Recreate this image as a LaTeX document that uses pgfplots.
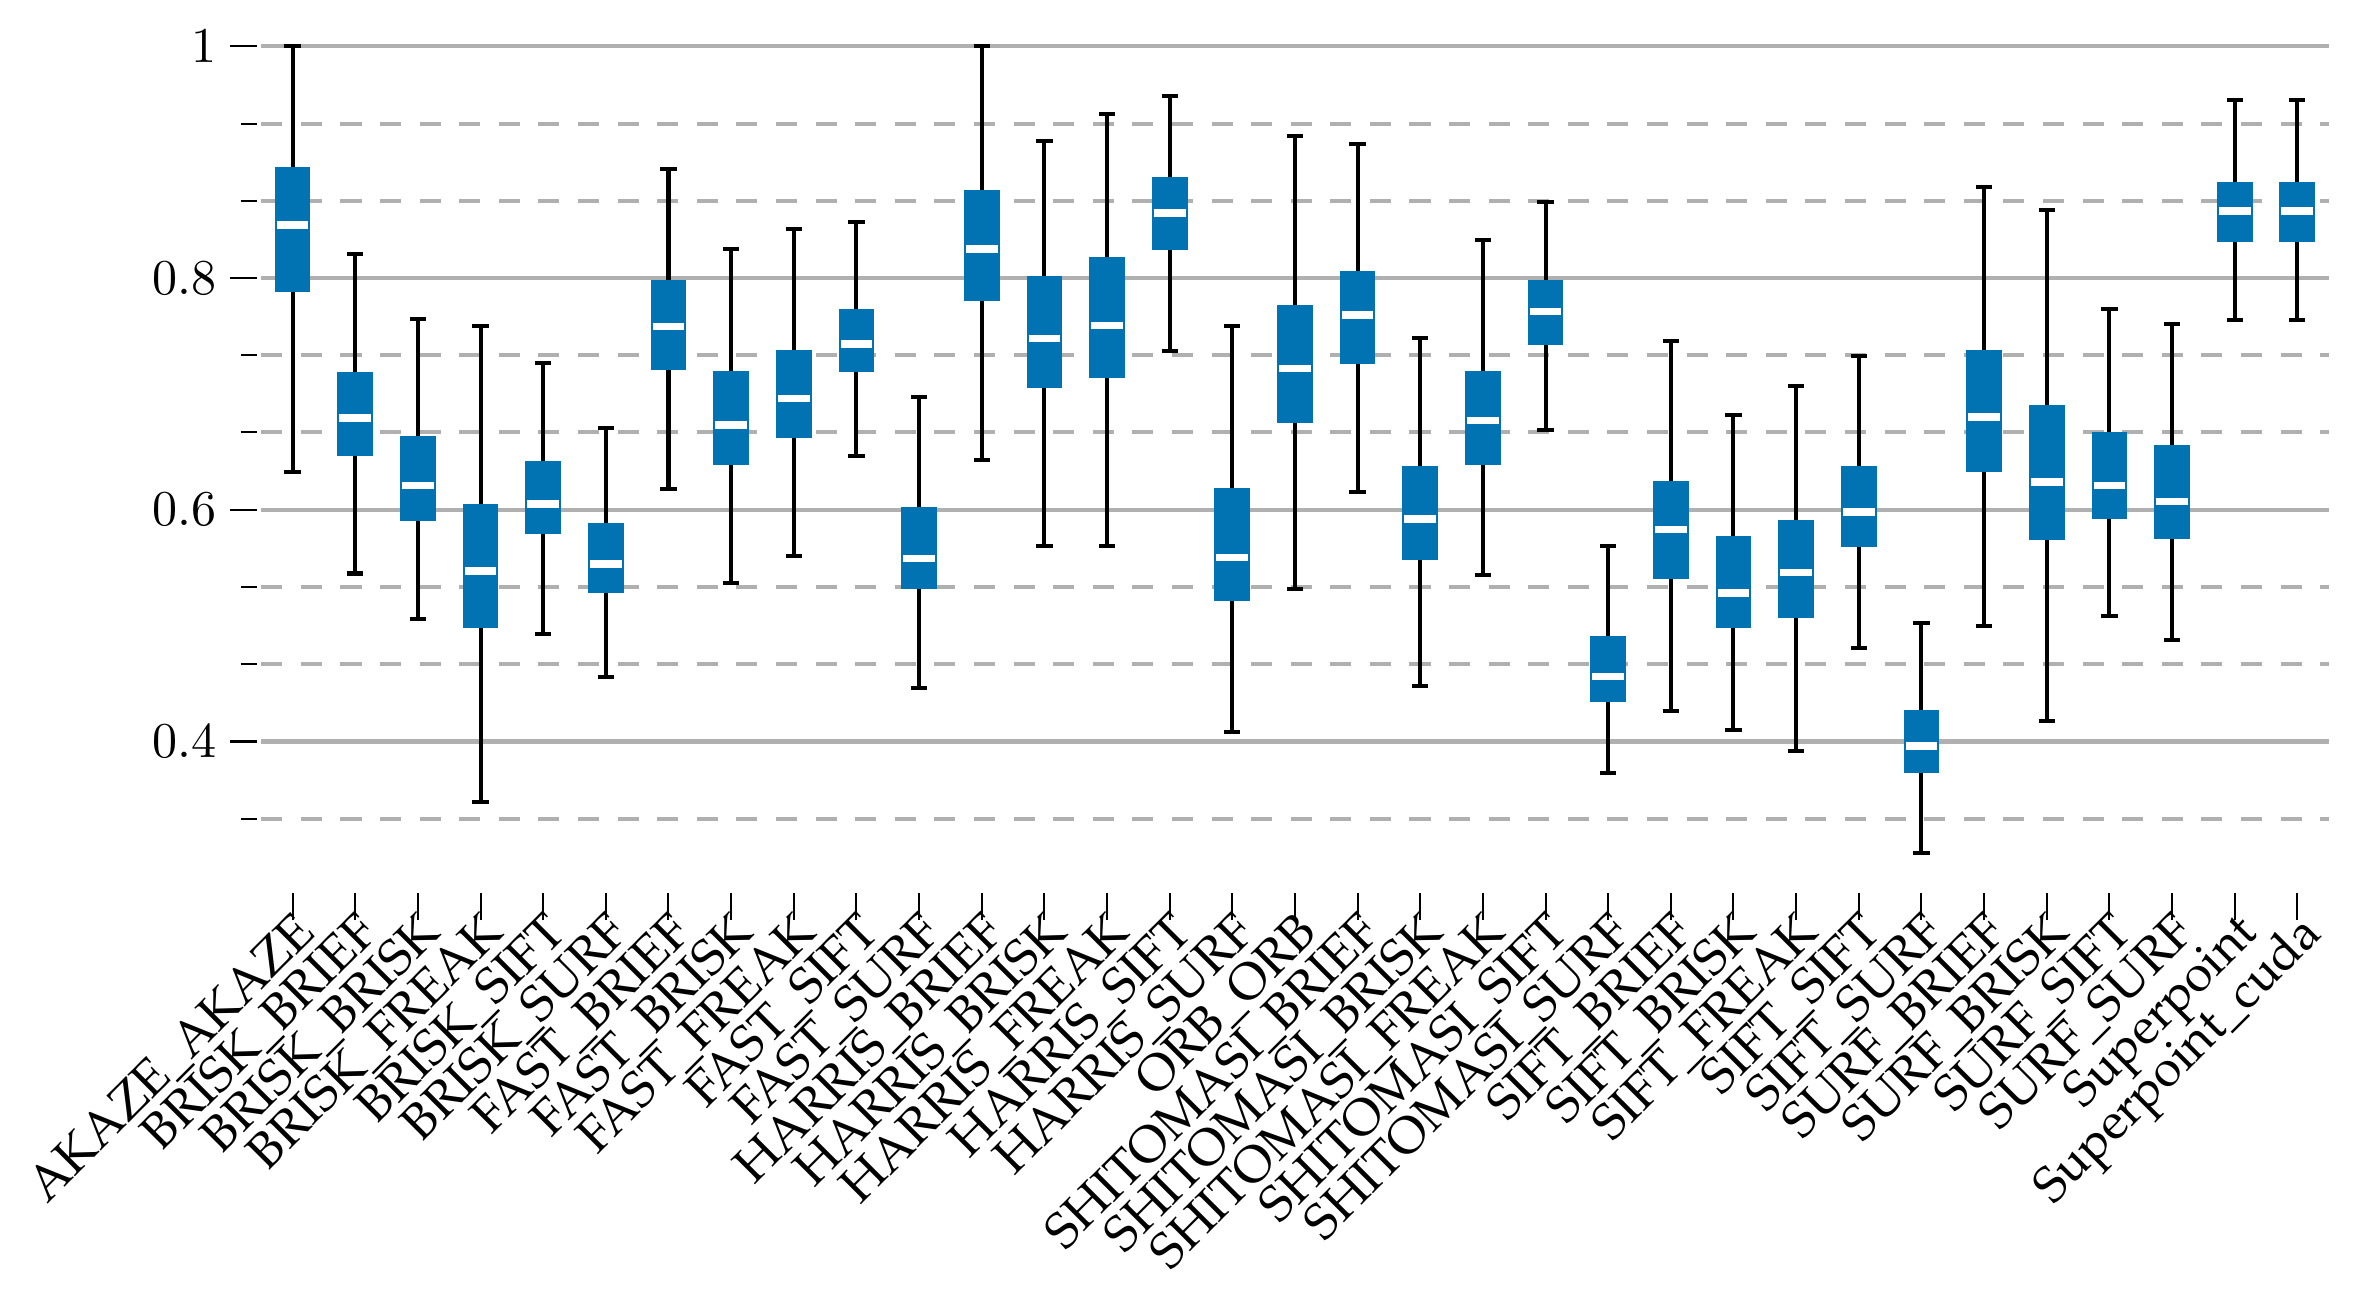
\documentclass[border=0pt]{standalone}
\usepackage[T1]{fontenc}
\renewcommand{\rmdefault}{ppl}
\usepackage{pgfplots}
\usepackage{pgfplotstable}
\pgfplotsset{compat=1.18}
\usepgfplotslibrary{statistics}

\definecolor{boxblue}{HTML}{0173B2}
\definecolor{gridgray}{HTML}{B0B0B0}

% one row per descriptor pair, same order as the tick labels
\pgfplotstableread{
lw    lq    med   uq    uw
0.633 0.788 0.846 0.896 1.000
0.545 0.646 0.679 0.719 0.821
0.506 0.590 0.621 0.664 0.765
0.348 0.498 0.547 0.605 0.759
0.493 0.579 0.605 0.642 0.727
0.456 0.528 0.553 0.589 0.671
0.618 0.721 0.758 0.798 0.894
0.537 0.639 0.673 0.720 0.825
0.560 0.662 0.696 0.738 0.842
0.646 0.719 0.743 0.773 0.848
0.446 0.532 0.558 0.602 0.697
0.643 0.780 0.825 0.876 1.000
0.569 0.705 0.748 0.802 0.918
0.569 0.714 0.759 0.818 0.942
0.737 0.824 0.856 0.887 0.957
0.408 0.521 0.559 0.619 0.759
0.532 0.675 0.722 0.777 0.923
0.615 0.726 0.768 0.806 0.916
0.448 0.557 0.592 0.638 0.748
0.544 0.639 0.677 0.720 0.833
0.669 0.742 0.771 0.798 0.866
0.373 0.434 0.456 0.491 0.569
0.426 0.540 0.583 0.625 0.746
0.410 0.498 0.528 0.577 0.682
0.392 0.507 0.546 0.591 0.707
0.481 0.568 0.598 0.638 0.733
0.304 0.373 0.396 0.427 0.502
0.500 0.633 0.680 0.738 0.879
0.418 0.574 0.624 0.690 0.859
0.508 0.592 0.621 0.667 0.773
0.488 0.575 0.607 0.656 0.760
0.764 0.831 0.858 0.883 0.954
0.764 0.831 0.858 0.883 0.954
}\boxdata

\begin{document}
\begin{tikzpicture}
\begin{axis}[
    width=412.5pt, height=177pt, scale only axis,
    xmin=-0.5, xmax=32.5,
    ymin=0.2692, ymax=1.0348,
    axis x line*=bottom, axis y line*=left,
    axis line style={draw=none},
    tick align=outside,
    major tick length=5.4pt, minor tick length=3.3pt,
    tick style={black, line width=0.4pt},
    every y tick/.append style={xshift=-0.8pt},
    xtick={0,...,32},
    xticklabels={AKAZE\_AKAZE, BRISK\_BRIEF, BRISK\_BRISK, BRISK\_FREAK, BRISK\_SIFT, BRISK\_SURF,
        FAST\_BRIEF, FAST\_BRISK, FAST\_FREAK, FAST\_SIFT, FAST\_SURF,
        HARRIS\_BRIEF, HARRIS\_BRISK, HARRIS\_FREAK, HARRIS\_SIFT, HARRIS\_SURF, ORB\_ORB,
        SHITOMASI\_BRIEF, SHITOMASI\_BRISK, SHITOMASI\_FREAK, SHITOMASI\_SIFT, SHITOMASI\_SURF,
        SIFT\_BRIEF, SIFT\_BRISK, SIFT\_FREAK, SIFT\_SIFT, SIFT\_SURF,
        SURF\_BRIEF, SURF\_BRISK, SURF\_SIFT, SURF\_SURF, Superpoint, Superpoint\_cuda},
    x tick label style={rotate=45, anchor=north east, inner sep=0.5pt},
    xticklabel shift=-3pt,
    ytick={0.4,0.6,0.8,1},
    minor ytick={0.3333,0.4667,0.5333,0.6667,0.7333,0.8667,0.9333},
    ymajorgrids, yminorgrids,
    major grid style={gridgray, line width=0.8pt},
    minor grid style={gridgray, line width=0.8pt, dash pattern=on 4.2pt off 3.7pt},
    clip=false,
    boxplot/draw direction=y,
    boxplot/box extend=0.57,
    boxplot/whisker extend=0.26,
    boxplot/every box/.style={fill=boxblue, draw=none},
    boxplot/every whisker/.style={black, line width=0.8pt},
    boxplot/every median/.style={white, line width=1.5pt, shorten <=0.4pt, shorten >=0.4pt},
]
\pgfplotsinvokeforeach{0,...,32}{
    \pgfplotstablegetelem{#1}{lw}\of\boxdata \edef\bLW{\pgfplotsretval}
    \pgfplotstablegetelem{#1}{lq}\of\boxdata \edef\bLQ{\pgfplotsretval}
    \pgfplotstablegetelem{#1}{med}\of\boxdata \edef\bMD{\pgfplotsretval}
    \pgfplotstablegetelem{#1}{uq}\of\boxdata \edef\bUQ{\pgfplotsretval}
    \pgfplotstablegetelem{#1}{uw}\of\boxdata \edef\bUW{\pgfplotsretval}
    \edef\temp{\noexpand\addplot[boxblue,
        boxplot prepared={draw position=#1,
            lower whisker=\bLW, lower quartile=\bLQ, median=\bMD,
            upper quartile=\bUQ, upper whisker=\bUW}] coordinates {};}
    \temp
}
\end{axis}
% white margin as in the original export
\path ([shift={(-3.8pt,-6.5pt)}]current bounding box.south west)
      ([shift={(5.5pt,1.2pt)}]current bounding box.north east);
\end{tikzpicture}
\end{document}
